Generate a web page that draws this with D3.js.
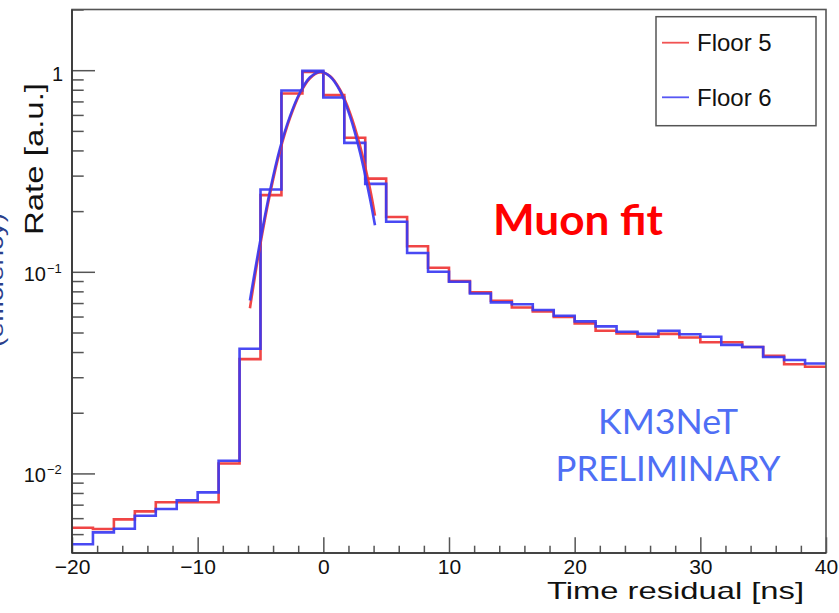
<!DOCTYPE html>
<html><head><meta charset="utf-8">
<script src="https://cdn.jsdelivr.net/npm/d3@7"></script>
<style>body{margin:0;background:#fff}svg{display:block}</style>
</head><body><svg id="c" width="839" height="613"></svg>
<script>
// ---------------- data ----------------
const binEdges = d3.range(37).map(i => -20 + i * 60 / 36); // 36 bins from -20 to 40 ns
const floor5 = [0.00538, 0.0053, 0.00592, 0.00648, 0.00719, 0.0072, 0.0072, 0.0112, 0.0369, 0.240,
  0.766, 0.981, 0.752, 0.462, 0.290, 0.187, 0.134, 0.1047, 0.0899, 0.0791,
  0.0718, 0.0665, 0.0636, 0.0597, 0.0555, 0.0510, 0.0495, 0.0476, 0.0492, 0.0472,
  0.0447, 0.0447, 0.0424, 0.0383, 0.0348, 0.0338];
const floor6 = [0.00445, 0.0051, 0.00532, 0.00617, 0.00666, 0.00735, 0.00805, 0.01156, 0.0415, 0.256,
  0.793, 0.992, 0.732, 0.436, 0.273, 0.177, 0.124, 0.1000, 0.0892, 0.0781,
  0.0705, 0.0690, 0.0647, 0.0605, 0.0568, 0.0536, 0.0504, 0.0492, 0.0510, 0.0490,
  0.0476, 0.0434, 0.0424, 0.0378, 0.0365, 0.0351];
const fitTime   = [-5.84, -5.04, -4.24, -3.45, -2.65, -1.86, -1.06, -0.27, 0.53, 1.33, 2.12, 2.92, 3.71, 4.11];
const fitFloor5 = [0.066, 0.134, 0.244, 0.398, 0.580, 0.765, 0.912, 0.977, 0.935, 0.800, 0.614, 0.422, 0.259, 0.190];
const fitFloor6 = [0.072, 0.140, 0.253, 0.410, 0.592, 0.775, 0.922, 0.983, 0.931, 0.790, 0.592, 0.391, 0.231, 0.170];
const xMajorTicks = [-20, -10, 0, 10, 20, 30, 40];
const xTickLabels = ["\u221220", "\u221210", "0", "10", "20", "30", "40"];
const yMajorTicks = [1, 0.1, 0.01];
const yTickExponents = ["", "\u22121", "\u22122"];
const seriesNames = ["Floor 5", "Floor 6"];
const seriesColors = ["#ef3535", "#3a3af2"];

// ---------------- layout ----------------
const W = 839, H = 613;
const L = 72, R = 826, T = 9.5, B = 553;
const FONT = "'Liberation Sans', Arial, Helvetica, sans-serif";
const x = d3.scaleLinear().domain([-20, 40]).range([L, R]);
const y = d3.scaleLog().domain([0.00403, 2.0]).range([B, T]);

const svg = d3.select('#c');
svg.append('rect').attr('width', W).attr('height', H).attr('fill', '#fff');

// partially visible label at the very left edge (cut off in the original)
svg.append('text')
  .attr('transform', 'translate(3,213) rotate(-90)')
  .attr('text-anchor', 'end')
  .attr('font-family', FONT).attr('font-size', 22)
  .attr('fill', '#2b3f8c')
  .attr('textLength', 134).attr('lengthAdjust', 'spacingAndGlyphs')
  .text('(efficiency)');

svg.append('clipPath').attr('id', 'plotclip')
  .append('rect').attr('x', L).attr('y', T).attr('width', R - L).attr('height', B - T);

// ---------------- axes ticks ----------------
const xMinor = d3.range(-18, 40, 2).filter(v => v % 10 !== 0);
const yMinor = y.ticks().filter(v => yMajorTicks.indexOf(v) < 0 && Math.abs(Math.log10(v) - Math.round(Math.log10(v))) > 1e-9);

function styleAxis(g) {
  g.select('.domain').remove();
  g.selectAll('.tick line').attr('stroke', '#555').attr('stroke-width', 1.5);
}

svg.append('g').attr('transform', `translate(0,${B})`)
  .call(d3.axisBottom(x).tickValues(xMinor).tickSize(-7.3).tickSizeOuter(0).tickFormat(''))
  .call(styleAxis);
const xMaj = svg.append('g').attr('transform', `translate(0,${B})`)
  .call(d3.axisBottom(x).tickValues(xMajorTicks).tickSize(-15.7).tickSizeOuter(0).tickPadding(6)
    .tickFormat((d, i) => xTickLabels[i]))
  .call(styleAxis);
xMaj.selectAll('text').attr('font-family', FONT).attr('font-size', 21).attr('fill', '#111');

svg.append('g').attr('transform', `translate(${L},0)`)
  .call(d3.axisLeft(y).tickValues(yMinor).tickSize(-11.7).tickSizeOuter(0).tickFormat(''))
  .call(styleAxis);
svg.append('g').attr('transform', `translate(${L},0)`)
  .call(d3.axisLeft(y).tickValues(yMajorTicks).tickSize(-23).tickSizeOuter(0).tickFormat(''))
  .call(styleAxis);

// y tick labels (ROOT style 10^n)
yMajorTicks.forEach((v, i) => {
  const yy = y(v);
  if (yTickExponents[i] === "") {
    svg.append('text').attr('x', 63).attr('y', yy + 11).attr('text-anchor', 'end')
      .attr('font-family', FONT).attr('font-size', 20).attr('fill', '#111').text('1');
  } else {
    svg.append('text').attr('x', 46).attr('y', yy + 9).attr('text-anchor', 'end')
      .attr('font-family', FONT).attr('font-size', 20).attr('fill', '#111').text('10');
    svg.append('text').attr('x', 47).attr('y', yy + 1).attr('text-anchor', 'start')
      .attr('font-family', FONT).attr('font-size', 13).attr('fill', '#111').text(yTickExponents[i]);
  }
});

// ---------------- histograms ----------------
const plot = svg.append('g').attr('clip-path', 'url(#plotclip)');
const stepLine = d3.line().x(d => x(d[0])).y(d => y(d[1])).curve(d3.curveStepAfter);
[floor5, floor6].forEach((vals, s) => {
  const pts = binEdges.map((e, i) => [e, vals[Math.min(i, vals.length - 1)]]);
  plot.append('path').attr('d', stepLine(pts))
    .attr('fill', 'none').attr('stroke', seriesColors[s]).attr('stroke-width', 2.6)
    .attr('stroke-opacity', 0.92);
});

// ---------------- fits ----------------
const fitLine = d3.line().x(d => x(d[0])).y(d => y(d[1])).curve(d3.curveCatmullRom);
[fitFloor5, fitFloor6].forEach((vals, s) => {
  const pts = fitTime.map((t, i) => [t, vals[i]]);
  plot.append('path').attr('d', fitLine(pts))
    .attr('fill', 'none').attr('stroke', seriesColors[s]).attr('stroke-width', 2.6)
    .attr('stroke-opacity', 0.92);
});

// ---------------- frame ----------------
svg.append('rect').attr('x', L).attr('y', T).attr('width', R - L).attr('height', B - T)
  .attr('fill', 'none').attr('stroke', '#555').attr('stroke-width', 1.6);
svg.append('line').attr('x1', L).attr('x2', L).attr('y1', T).attr('y2', B).attr('stroke', '#333').attr('stroke-width', 1.6);
svg.append('line').attr('x1', L).attr('x2', R).attr('y1', B).attr('y2', B).attr('stroke', '#333').attr('stroke-width', 1.6);

// ---------------- legend ----------------
const leg = svg.append('g');
leg.append('rect').attr('x', 656).attr('y', 16.7).attr('width', 160).attr('height', 109)
  .attr('fill', '#fff').attr('stroke', '#555').attr('stroke-width', 1.5);
seriesNames.forEach((n, i) => {
  const ly = [42.7, 97.3][i];
  leg.append('line').attr('x1', 662).attr('x2', 689).attr('y1', ly).attr('y2', ly)
    .attr('stroke', seriesColors[i]).attr('stroke-width', 1.8).attr('stroke-opacity', 0.85);
  leg.append('text').attr('x', 697).attr('y', ly + 8.5)
    .attr('font-family', FONT).attr('font-size', 24).attr('fill', '#111').text(n);
});

// ---------------- titles ----------------
svg.append('text').attr('transform', 'translate(43,159) rotate(-90)')
  .attr('text-anchor', 'middle').attr('font-family', FONT).attr('font-size', 25).attr('fill', '#111')
  .attr('textLength', 152).attr('lengthAdjust', 'spacingAndGlyphs')
  .text('Rate [a.u.]');
svg.append('text').attr('x', 547).attr('y', 599)
  .attr('font-family', FONT).attr('font-size', 24).attr('fill', '#111')
  .attr('textLength', 257).attr('lengthAdjust', 'spacingAndGlyphs')
  .text('Time residual [ns]');

svg.append('text').attr('x', 493).attr('y', 235)
  .attr('font-family', "Lato, 'Open Sans', sans-serif").attr('font-weight', 'bold').attr('font-size', 42)
  .attr('fill', '#ff0000').attr('textLength', 170).attr('lengthAdjust', 'spacingAndGlyphs')
  .text('Muon fit');
svg.append('text').attr('x', 668).attr('y', 434).attr('text-anchor', 'middle')
  .attr('font-family', "Lato, 'Open Sans', sans-serif").attr('font-size', 35)
  .attr('fill', '#4f6ff5').attr('textLength', 140).attr('lengthAdjust', 'spacingAndGlyphs')
  .text('KM3NeT');
svg.append('text').attr('x', 668).attr('y', 481).attr('text-anchor', 'middle')
  .attr('font-family', "Lato, 'Open Sans', sans-serif").attr('font-size', 35)
  .attr('fill', '#4f6ff5').attr('textLength', 225).attr('lengthAdjust', 'spacingAndGlyphs')
  .text('PRELIMINARY');
</script></body></html>
